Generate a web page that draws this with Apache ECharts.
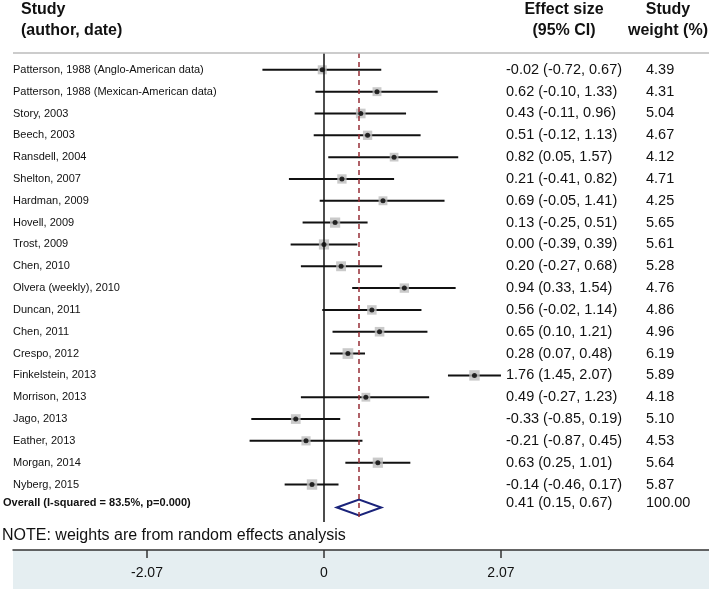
<!DOCTYPE html>
<html>
<head>
<meta charset="utf-8">
<script src="https://cdn.jsdelivr.net/npm/echarts@6/dist/echarts.min.js"></script>
<style>
  html, body { margin: 0; padding: 0; background: #fff; }
  #chart { width: 709px; height: 589px; }
</style>
</head>
<body>
<div id="chart"></div>
<script>
// studies, top to bottom
const studies = [
  'Patterson, 1988 (Anglo-American data)',
  'Patterson, 1988 (Mexican-American data)',
  'Story, 2003',
  'Beech, 2003',
  'Ransdell, 2004',
  'Shelton, 2007',
  'Hardman, 2009',
  'Hovell, 2009',
  'Trost, 2009',
  'Chen, 2010',
  'Olvera (weekly), 2010',
  'Duncan, 2011',
  'Chen, 2011',
  'Crespo, 2012',
  'Finkelstein, 2013',
  'Morrison, 2013',
  'Jago, 2013',
  'Eather, 2013',
  'Morgan, 2014',
  'Nyberg, 2015'
]
const effect = [-0.02, 0.62, 0.43, 0.51, 0.82, 0.21, 0.69, 0.13, 0.00, 0.20, 0.94, 0.56, 0.65, 0.28, 1.76, 0.49, -0.33, -0.21, 0.63, -0.14]
const lower = [-0.72, -0.10, -0.11, -0.12, 0.05, -0.41, -0.05, -0.25, -0.39, -0.27, 0.33, -0.02, 0.10, 0.07, 1.45, -0.27, -0.85, -0.87, 0.25, -0.46]
const upper = [0.67, 1.33, 0.96, 1.13, 1.57, 0.82, 1.41, 0.51, 0.39, 0.68, 1.54, 1.14, 1.21, 0.48, 2.07, 1.23, 0.19, 0.45, 1.01, 0.17]
const weights = [4.39, 4.31, 5.04, 4.67, 4.12, 4.71, 4.25, 5.65, 5.61, 5.28, 4.76, 4.86, 4.96, 6.19, 5.89, 4.18, 5.10, 4.53, 5.64, 5.87]
// pooled estimate
const overallLabel = 'Overall (I-squared = 83.5%, p=0.000)'
const overallEst = 0.41
const overallLo = 0.15
const overallHi = 0.67
const overallWeight = 100.00
const xTicks = [-2.07, 0, 2.07]

// layout
const FONT = '"Liberation Sans", Arial, sans-serif'
const rows = studies.map((s, i) => i + 1)
const overallRow = 21.05
const lineTop = 0.23
const lineBottom = 21.72
const colEffectX = 506
const colWeightX = 646
const fmt = v => v.toFixed(2)

const chart = echarts.init(document.getElementById('chart'))

const ciData = studies.map((s, i) => [lower[i], upper[i], rows[i]])
const boxData = studies.map((s, i) => ({ value: [effect[i], rows[i]], symbolSize: Math.sqrt(weights[i]) * 4.3 }))
const dotData = studies.map((s, i) => [effect[i], rows[i]])
const textData = studies.map((s, i) => [rows[i], s, fmt(effect[i]) + ' (' + fmt(lower[i]) + ', ' + fmt(upper[i]) + ')', fmt(weights[i]), 0])
textData.push([overallRow, overallLabel, fmt(overallEst) + ' (' + fmt(overallLo) + ', ' + fmt(overallHi) + ')', fmt(overallWeight), 1])

const option = {
  animation: false,
  graphic: [
    { type: 'rect', shape: { x: 13, y: 550, width: 696, height: 39 }, style: { fill: '#e5eef1' }, z: -10 },
    { type: 'text', left: 21, top: 2, style: { text: 'Study', font: 'bold 16px ' + FONT, fill: '#111' } },
    { type: 'text', left: 21, top: 23, style: { text: '(author, date)', font: 'bold 16px ' + FONT, fill: '#111' } },
    { type: 'text', x: 564, y: 2, style: { text: 'Effect size', font: 'bold 16px ' + FONT, fill: '#111', align: 'center' } },
    { type: 'text', x: 564, y: 23, style: { text: '(95% CI)', font: 'bold 16px ' + FONT, fill: '#111', align: 'center' } },
    { type: 'text', x: 668, y: 2, style: { text: 'Study', font: 'bold 16px ' + FONT, fill: '#111', align: 'center' } },
    { type: 'text', x: 668, y: 23, style: { text: 'weight (%)', font: 'bold 16px ' + FONT, fill: '#111', align: 'center' } },
    { type: 'text', x: 2, y: 528, style: { text: 'NOTE: weights are from random effects analysis', font: '16px ' + FONT, fill: '#111' } }
  ],
  grid: { left: 13, right: 0, top: 48, bottom: 39 },
  xAxis: {
    type: 'value',
    min: -3.637,
    max: 4.503,
    splitLine: { show: false },
    axisLine: { show: true, onZero: false, lineStyle: { color: '#333', width: 1.5 } },
    axisTick: { show: true, customValues: xTicks, length: 8, lineStyle: { color: '#333', width: 1.5 } },
    axisLabel: { customValues: xTicks, margin: 16, fontSize: 14, color: '#111', fontFamily: FONT, formatter: v => String(v) }
  },
  yAxis: {
    type: 'value',
    inverse: true,
    min: 0,
    max: 23,
    show: false
  },
  series: [
    {
      type: 'custom',
      data: ciData,
      renderItem: (params, api) => {
        const a = api.coord([api.value(0), api.value(2)])
        const b = api.coord([api.value(1), api.value(2)])
        return { type: 'line', shape: { x1: a[0], y1: a[1], x2: b[0], y2: b[1] }, style: { stroke: '#111', lineWidth: 2 } }
      },
      markLine: {
        silent: true,
        symbol: 'none',
        label: { show: false },
        data: [
          [{ coord: [0, lineTop], lineStyle: { color: '#111', width: 1.5, type: 'solid' } }, { coord: [0, lineBottom] }],
          [{ coord: [overallEst, lineTop], lineStyle: { color: '#962e36', width: 1.5, type: [5, 4] } }, { coord: [overallEst, lineBottom - 0.05] }],
          [{ coord: [-3.637, lineTop], lineStyle: { color: '#bbb', width: 1.5, type: 'solid' } }, { coord: [4.503, lineTop] }]
        ]
      },
      z: 2
    },
    {
      type: 'scatter',
      symbol: 'rect',
      data: boxData,
      itemStyle: { color: '#bdbdbd' },
      z: 3
    },
    {
      type: 'scatter',
      symbol: 'circle',
      symbolSize: 5,
      data: dotData,
      itemStyle: { color: '#000' },
      z: 4
    },
    {
      type: 'custom',
      data: [[overallLo, overallEst, overallHi, overallRow]],
      renderItem: (params, api) => {
        const l = api.coord([api.value(0), api.value(3)])
        const m = api.coord([api.value(1), api.value(3)])
        const r = api.coord([api.value(2), api.value(3)])
        const h = 8
        return {
          type: 'polygon',
          shape: { points: [[l[0], l[1]], [m[0], m[1] - h], [r[0], r[1]], [m[0], m[1] + h]] },
          style: { fill: '#fff', stroke: '#1a237a', lineWidth: 2 }
        }
      },
      z: 3
    },
    {
      type: 'custom',
      data: textData,
      renderItem: (params, api) => {
        const y = api.coord([0, api.value(0)])[1]
        const bold = api.value(4) === 1
        const d = textData[params.dataIndex]
        return {
          type: 'group',
          children: [
            { type: 'text', x: bold ? 3 : 13, y: bold ? y - 4 : y, style: { text: d[1], font: (bold ? 'bold 11px ' : '11px ') + FONT, fill: '#111', verticalAlign: 'middle' } },
            { type: 'text', x: colEffectX, y: bold ? y - 4 : y, style: { text: d[2], font: '14.5px ' + FONT, fill: '#111', verticalAlign: 'middle' } },
            { type: 'text', x: colWeightX, y: bold ? y - 4 : y, style: { text: d[3], font: '14.5px ' + FONT, fill: '#111', verticalAlign: 'middle' } }
          ]
        }
      },
      z: 5
    }
  ]
}
chart.setOption(option)
</script>
</body>
</html>
